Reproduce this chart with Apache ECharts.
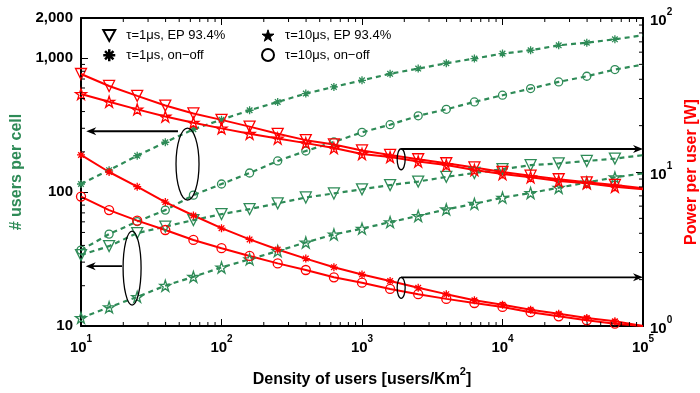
<!DOCTYPE html>
<html>
<head>
<meta charset="utf-8">
<script src="https://cdn.jsdelivr.net/npm/echarts@6.0.0/dist/echarts.min.js"></script>
<style>
  html, body {margin: 0; padding: 0; background: #fff;}
  #chart {width: 700px; height: 393px;}
</style>
</head>
<body>
<div id="chart"></div>
<script>
// x: density of users [users/Km^2]
const density = [10, 15.85, 25.12, 39.81, 63.1, 100, 158.5, 251.2, 398.1, 631, 1000,
  1585, 2512, 3981, 6310, 10000, 15849, 25119, 39811, 63096, 100000];

// # users per cell (left axis)
const usersOn1 = [115, 146, 187, 236, 295, 348, 409, 472, 545, 611, 685, 766, 838, 918, 995, 1084, 1148, 1250, 1309, 1386, 1485];
const usersOn10 = [36.9, 48.6, 60.3, 73.4, 95, 115, 139, 171, 203, 237, 280, 319, 372, 416, 472, 530, 594, 666, 734, 824, 897];
const usersEp1 = [33.9, 39.5, 49.4, 55.3, 61.8, 68.5, 74.7, 82.4, 91.3, 97.8, 105, 113, 120, 130, 139, 148.5, 159, 164, 171, 178, 189];
const usersEp10 = [11.5, 13.8, 16.5, 20.0, 23.3, 27.4, 31.5, 36.3, 42.1, 48.3, 53.4, 59.7, 66.4, 74.4, 81.8, 91, 98.6, 108, 118, 129, 138];

// power per user [W] (right axis)
const powerEp1 = [43.3, 36.2, 31.2, 27.0, 24.0, 21.8, 19.7, 17.7, 16.1, 15.1, 13.8, 12.9, 12.1, 11.4, 10.7, 10.0, 9.46, 8.97, 8.57, 8.24, 7.84];
const powerEp10 = [32.1, 28.6, 25.5, 22.9, 20.9, 19.2, 17.7, 16.5, 15.4, 14.3, 13.1, 12.5, 11.7, 11.1, 10.3, 9.70, 9.24, 8.74, 8.45, 8.03, 7.72];
const powerOn1 = [12.9, 10.0, 8.03, 6.38, 5.22, 4.32, 3.65, 3.14, 2.74, 2.41, 2.16, 1.96, 1.77, 1.61, 1.47, 1.375, 1.276, 1.20, 1.127, 1.073, 1.0];
const powerOn10 = [6.92, 5.66, 4.83, 4.20, 3.62, 3.20, 2.85, 2.55, 2.31, 2.07, 1.91, 1.74, 1.61, 1.50, 1.41, 1.33, 1.23, 1.156, 1.089, 1.035, 1.0];

const labels = ['τ=1μs, EP 93.4%', 'τ=10μs, EP 93.4%', 'τ=1μs, on−off', 'τ=10μs, on−off'];

// annotations, in data coordinates
const arrows = [
  {from: [49, 285], to: [10.9, 285], axis: 0},
  {from: [19.6, 28], to: [10.8, 28], axis: 0},
  {from: [1900, 14.1], to: [100000, 14.1], axis: 1},
  {from: [1900, 2.07], to: [100000, 2.07], axis: 1}
];
const ovals = [
  {x: 57.3, y: 162, axis: 0, rx: 11.5, ry: 36},
  {x: 23.1, y: 27.1, axis: 0, rx: 9, ry: 37},
  {x: 1900, y: 12.1, axis: 1, rx: 4, ry: 10.5},
  {x: 1900, y: 1.77, axis: 1, rx: 4, ry: 10.5}
];

const GREEN = '#2E8B57';
const RED = '#FF0000';
const FONT = 'Liberation Sans, Arial, sans-serif';

const SYM = {
  tri: 'path://M0,0L10,0L5,9Z',
  star: 'path://M5,0L6.18,3.6L10,3.6L6.9,5.9L8.1,9.5L5,7.3L1.9,9.5L3.1,5.9L0,3.6L3.82,3.6Z',
  ast: 'path://M5,0L5,10M0,5L10,5M1.5,1.5L8.5,8.5M8.5,1.5L1.5,8.5',
  circ: 'circle'
};

function mk(name, values, sym, size, color, axis, dashed) {
  return {
    name: name,
    type: 'line',
    yAxisIndex: axis,
    symbol: sym,
    symbolSize: size,
    data: density.map((x, i) => i === density.length - 1
      ? {value: [x, values[i]], symbol: 'none'}
      : [x, values[i]]),
    lineStyle: {color: color, width: dashed ? 2.2 : 2, type: dashed ? [5, 4] : 'solid'},
    itemStyle: {color: 'rgba(0,0,0,0)', borderColor: color, borderWidth: 1.3},
    emphasis: {disabled: true},
    silent: true
  };
}

function legendItem(name, icon, fill, bw) {
  return {name: name, icon: icon, itemStyle: {color: fill, borderColor: '#000', borderWidth: bw}};
}

const supLabel = v => '{b|10}{s|' + Math.round(Math.log10(v)) + '}';
const supRich = {
  b: {fontSize: 15, fontWeight: 'bold', color: '#000', fontFamily: FONT, padding: [6, 0, 0, 0]},
  s: {fontSize: 10, fontWeight: 'bold', color: '#000', fontFamily: FONT, verticalAlign: 'top'}
};

const frameLine = {show: true, lineStyle: {color: '#000', width: 2}};
const majorTick = {show: true, inside: true, length: 7, lineStyle: {color: '#000', width: 1}};

const chart = echarts.init(document.getElementById('chart'));

const legendText = {fontSize: 13, color: '#000', fontFamily: FONT, padding: [0, 0, 0, 6]};

chart.setOption({
  animation: false,
  backgroundColor: '#fff',
  grid: {left: 81, right: 57, top: 18, bottom: 67, outerBoundsMode: 'none'},
  legend: [
    {
      left: 97, top: 24, orient: 'vertical', itemGap: 6, itemWidth: 12, itemHeight: 12,
      selectedMode: false, textStyle: legendText,
      data: [legendItem(labels[0], SYM.tri, '#fff', 2), legendItem(labels[2], SYM.ast, '#000', 2.5)]
    },
    {
      left: 256, top: 24, orient: 'vertical', itemGap: 6, itemWidth: 12, itemHeight: 12,
      selectedMode: false, textStyle: legendText,
      data: [legendItem(labels[1], SYM.star, '#000', 1), legendItem(labels[3], SYM.circ, '#fff', 2)]
    }
  ],
  xAxis: [
    {
      type: 'log', logBase: 10, min: 10, max: 100000,
      axisLine: frameLine, axisTick: majorTick, splitLine: {show: false}, minorTick: {show: false},
      axisLabel: {formatter: supLabel, margin: 8, rich: supRich},
      name: '{n|Density of users [users/Km}{s|2}{n|]}', nameLocation: 'middle', nameGap: 40,
      nameTextStyle: {
        fontSize: 16, fontWeight: 'bold', color: '#000', fontFamily: FONT,
        rich: {
          n: {fontSize: 16, fontWeight: 'bold', color: '#000', fontFamily: FONT, padding: [6, 0, 0, 0]},
          s: {fontSize: 11, fontWeight: 'bold', color: '#000', fontFamily: FONT, verticalAlign: 'top'}
        }
      }
    },
    {
      type: 'log', logBase: 10, min: 10, max: 100000, position: 'top',
      axisLine: frameLine, axisTick: majorTick, splitLine: {show: false},
      axisLabel: {show: false}
    }
  ],
  yAxis: [
    {
      type: 'log', logBase: 10, min: 10, max: 2000, position: 'left',
      axisLine: frameLine, axisTick: majorTick, splitLine: {show: false},
      axisLabel: {
        formatter: v => Math.round(v).toLocaleString('en-US'),
        fontSize: 15, fontWeight: 'bold', color: '#000', fontFamily: FONT, margin: 8,
        showMaxLabel: true
      },
      name: '# users per cell', nameLocation: 'middle', nameGap: 42, nameRotate: 90,
      nameTextStyle: {fontSize: 16, fontWeight: 'bold', color: GREEN, fontFamily: FONT}
    },
    {
      type: 'log', logBase: 10, min: 1, max: 100, position: 'right',
      axisLine: frameLine, axisTick: majorTick, splitLine: {show: false},
      axisLabel: {formatter: supLabel, margin: 7, rich: supRich},
      name: 'Power per user [W]', nameLocation: 'middle', nameGap: 41, nameRotate: 90,
      nameTextStyle: {fontSize: 16, fontWeight: 'bold', color: RED, fontFamily: FONT}
    }
  ],
  series: [
    mk(labels[2], usersOn1, SYM.ast, 8, GREEN, 0, true),
    mk(labels[3], usersOn10, SYM.circ, 8, GREEN, 0, true),
    mk(labels[0], usersEp1, SYM.tri, 11, GREEN, 0, true),
    mk(labels[1], usersEp10, SYM.star, 11, GREEN, 0, true),
    mk(labels[0], powerEp1, SYM.tri, 11, RED, 1, false),
    mk(labels[1], powerEp10, SYM.star, 11, RED, 1, false),
    mk(labels[2], powerOn1, SYM.ast, 8, RED, 1, false),
    mk(labels[3], powerOn10, SYM.circ, 9, RED, 1, false)
  ]
});

// minor log ticks on all four sides, the ovals and the arrows, placed through the axes
function decorate() {
  const px = v => chart.convertToPixel({xAxisIndex: 0}, v);
  const py = (axis, v) => chart.convertToPixel({yAxisIndex: axis}, v);
  const x0 = px(10), x1 = px(100000), yB = py(0, 10), yT = py(0, 2000);
  const els = [];
  const seg = (a, b, c, d, w) => els.push({
    type: 'line', silent: true, z: 10,
    shape: {x1: a, y1: b, x2: c, y2: d},
    style: {stroke: '#000', lineWidth: w || 1}
  });
  const steps = [2, 3, 4, 5, 6, 7, 8, 9];
  [10, 100, 1000, 10000].forEach(d => steps.forEach(m => {
    const x = px(d * m);
    seg(x, yB, x, yB - 4);
    seg(x, yT, x, yT + 4);
  }));
  [10, 100].forEach(d => steps.forEach(m => {
    if (d * m < 2000) {
      const y = py(0, d * m);
      seg(x0, y, x0 + 4, y);
    }
  }));
  [1, 10].forEach(d => steps.forEach(m => {
    const y = py(1, d * m);
    seg(x1, y, x1 - 4, y);
  }));
  ovals.forEach(o => els.push({
    type: 'ellipse', silent: true, z: 10,
    shape: {cx: px(o.x), cy: py(o.axis, o.y), rx: o.rx, ry: o.ry},
    style: {fill: 'none', stroke: '#000', lineWidth: 1.3}
  }));
  arrows.forEach(a => {
    const fx = px(a.from[0]), fy = py(a.axis, a.from[1]);
    const tx = px(a.to[0]), ty = py(a.axis, a.to[1]);
    const dir = tx > fx ? 1 : -1;
    seg(fx, fy, tx - dir * 5, ty, 1.8);
    els.push({
      type: 'polygon', silent: true, z: 10,
      shape: {points: [[tx, ty], [tx - dir * 10, ty - 4], [tx - dir * 7, ty], [tx - dir * 10, ty + 4]]},
      style: {fill: '#000'}
    });
  });
  chart.setOption({graphic: {elements: els}});
}
decorate();
</script>
</body>
</html>
